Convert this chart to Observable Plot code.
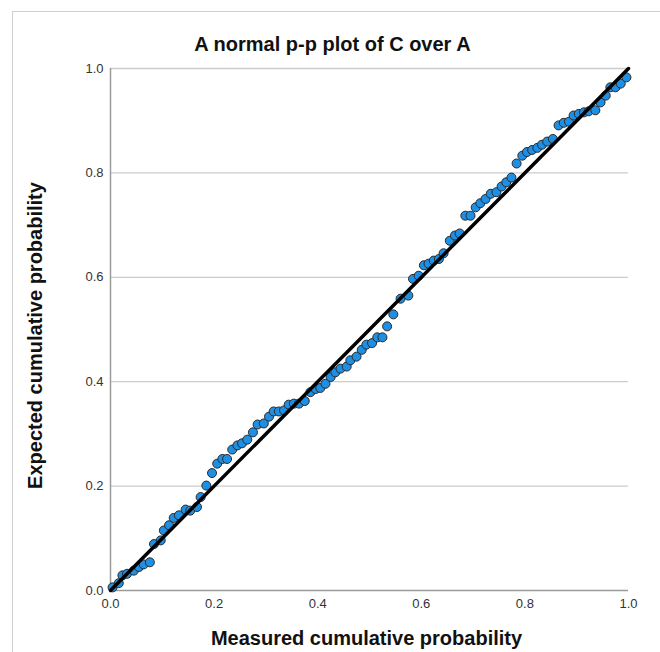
<!DOCTYPE html>
<html>
<head>
<meta charset="utf-8">
<script src="https://cdn.jsdelivr.net/npm/d3@7"></script>
<script src="https://cdn.jsdelivr.net/npm/@observablehq/plot@0.6"></script>
<style>
  html, body { margin: 0; padding: 0; background: #fff; overflow: hidden; }
  #wrap { position: relative; width: 660px; height: 652px; }
  #frame { position: absolute; left: 12px; top: 11px; width: 700px; height: 700px; border: 1px solid #cfcfcf; box-sizing: border-box; }
  #chart { position: absolute; left: 0; top: 0; }
</style>
</head>
<body>
<div id="wrap"><div id="frame"></div><div id="chart"></div></div>
<script>
const titleText = "A normal p-p plot of C over A";
const xLabel = "Measured cumulative probability";
const yLabel = "Expected cumulative probability";
const xTicks = [0, 0.2, 0.4, 0.6, 0.8, 1.0];
const yTicks = [0, 0.2, 0.4, 0.6, 0.8, 1.0];
const refX = [0, 1];
const refY = [0, 1];

// measured cumulative probability
const measured = [
  0.004, 0.016, 0.023, 0.032, 0.045, 0.055, 0.064, 0.076, 0.084, 0.097,
  0.103, 0.113, 0.122, 0.132, 0.145, 0.154, 0.167, 0.174, 0.185, 0.196,
  0.206, 0.216, 0.225, 0.235, 0.245, 0.254, 0.264, 0.275, 0.284, 0.296,
  0.306, 0.315, 0.325, 0.335, 0.344, 0.354, 0.364, 0.375, 0.386, 0.396,
  0.405, 0.415, 0.425, 0.434, 0.444, 0.456, 0.463, 0.475, 0.485, 0.494,
  0.505, 0.515, 0.525, 0.534, 0.546, 0.560, 0.575, 0.584, 0.595, 0.605,
  0.614, 0.624, 0.634, 0.643, 0.655, 0.665, 0.674, 0.685, 0.695, 0.705,
  0.714, 0.724, 0.734, 0.745, 0.755, 0.764, 0.774, 0.784, 0.795, 0.804,
  0.814, 0.824, 0.833, 0.843, 0.854, 0.865, 0.875, 0.885, 0.894, 0.904,
  0.914, 0.923, 0.936, 0.946, 0.956, 0.965, 0.975, 0.985, 0.996
];
// expected cumulative probability
const expected = [
  0.006, 0.014, 0.029, 0.032, 0.038, 0.045, 0.050, 0.054, 0.089, 0.096,
  0.115, 0.125, 0.139, 0.144, 0.155, 0.153, 0.160, 0.179, 0.201, 0.225,
  0.243, 0.252, 0.252, 0.270, 0.278, 0.282, 0.289, 0.303, 0.318, 0.320,
  0.333, 0.343, 0.343, 0.345, 0.356, 0.358, 0.358, 0.363, 0.380, 0.386,
  0.388, 0.396, 0.409, 0.418, 0.425, 0.429, 0.441, 0.448, 0.461, 0.471,
  0.474, 0.485, 0.485, 0.506, 0.529, 0.559, 0.565, 0.597, 0.603, 0.623,
  0.626, 0.632, 0.635, 0.646, 0.670, 0.680, 0.684, 0.718, 0.718, 0.734,
  0.742, 0.750, 0.760, 0.763, 0.774, 0.782, 0.791, 0.818, 0.833, 0.840,
  0.844, 0.848, 0.854, 0.860, 0.865, 0.891, 0.896, 0.898, 0.910, 0.913,
  0.916, 0.918, 0.920, 0.935, 0.948, 0.964, 0.964, 0.971, 0.983
];

const points = measured.map((x, i) => ({x, y: expected[i]}));
const ref = refX.map((x, i) => ({x, y: refY[i]}));
const fmt = d3.format(".1f");

const chart = Plot.plot({
  width: 660,
  height: 652,
  marginLeft: 110,
  marginRight: 32,
  marginTop: 68,
  marginBottom: 62,
  style: {fontFamily: "'Liberation Sans', Arial, sans-serif", fontSize: "13px", color: "#333", background: "transparent"},
  x: {domain: [0, 1]},
  y: {domain: [0, 1]},
  marks: [
    Plot.gridY(yTicks.filter(d => d > 0), {stroke: "#cccccc", strokeOpacity: 1, strokeWidth: 1.3}),
    Plot.ruleX([0], {stroke: "#9a9a9a", strokeWidth: 1.5}),
    Plot.ruleY([0], {stroke: "#9a9a9a", strokeWidth: 1.5}),
    Plot.axisX(xTicks, {tickSize: 0, tickPadding: 8, tickFormat: fmt, label: null, fontSize: 13}),
    Plot.axisY(yTicks, {tickSize: 0, tickPadding: 7, tickFormat: fmt, label: null, fontSize: 13}),
    Plot.dot(points, {x: "x", y: "y", r: 4.5, fill: "#1f8fe3", stroke: "#2a2a2a", strokeWidth: 1}),
    Plot.line(ref, {x: "x", y: "y", stroke: "#000", strokeWidth: 3.5}),
    Plot.text([titleText], {frameAnchor: "top", lineAnchor: "middle", dy: -24, dx: -37, fontSize: 20, fontWeight: "bold", fill: "#111"}),
    Plot.text([xLabel], {frameAnchor: "bottom", lineAnchor: "middle", dy: 48, dx: -3, fontSize: 20, fontWeight: "bold", fill: "#111"}),
    Plot.text([yLabel], {frameAnchor: "left", textAnchor: "middle", lineAnchor: "middle", dx: -75, dy: 6, rotate: -90, fontSize: 20, fontWeight: "bold", fill: "#111"})
  ]
});
document.getElementById("chart").appendChild(chart);
</script>
</body>
</html>
